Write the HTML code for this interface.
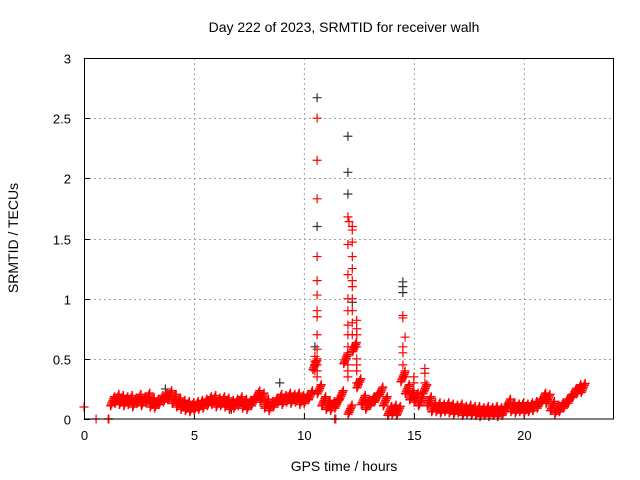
<!DOCTYPE html>
<html><head><meta charset="utf-8"><style>
html,body{margin:0;padding:0;background:#fff}
svg{display:block;font-family:"Liberation Sans",sans-serif}
</style></head><body>
<svg id="chart" width="640" height="480" viewBox="0 0 640 480" xmlns="http://www.w3.org/2000/svg">
<text x="344" y="32" font-size="14" text-anchor="middle">Day 222 of 2023, SRMTID for receiver walh</text>
<text transform="translate(18,238) rotate(-90)" font-size="14" text-anchor="middle">SRMTID / TECUs</text>
<text x="344" y="471" font-size="14" text-anchor="middle">GPS time / hours</text>
<g id="grid"></g>
<g id="ticks"></g>
<g id="marks"></g>
<rect x="84.5" y="58.5" width="529" height="360.5" fill="none" stroke="#000" stroke-width="1"/>
</svg>
<script>
const xTicks=[0,5,10,15,20];
const yTicks=[0,0.5,1,1.5,2,2.5,3];
const yTickLabels=["0","0.5","1","1.5","2","2.5","3"];
const baseTimes=[1.3,1.5,1.7,1.9,2.1,2.3,2.5,2.7,2.9,3.1,3.3,3.5,3.7,3.9,4.1,4.3,4.5,4.7,4.9,5.1,5.3,5.5,5.7,5.9,6.1,6.3,6.5,6.7,6.9,7.1,7.3,7.5,7.7,7.9,8.1,8.3,8.5,8.7,8.9,9.1,9.3,9.5,9.7,9.9,10.1,10.3,10.5,10.7,10.9,11.1,11.3,11.5,11.7,11.9,12.1,12.3,12.5,12.7,12.9,13.1,13.3,13.5,13.7,13.9,14.1,14.3,14.5,14.7,14.9,15.1,15.3,15.5,15.7,15.9,16.1,16.3,16.5,16.7,16.9,17.1,17.3,17.5,17.7,17.9,18.1,18.3,18.5,18.7,18.9,19.1,19.3,19.5,19.7,19.9,20.1,20.3,20.5,20.7,20.9,21.1,21.3,21.5,21.7,21.9,22.1,22.3,22.5,22.7];
const baseValues=[.15,.17,.16,.15,.16,.14,.17,.15,.18,.14,.13,.16,.18,.2,.17,.14,.12,.11,.1,.11,.12,.13,.15,.16,.14,.15,.14,.12,.13,.15,.13,.12,.15,.2,.18,.13,.11,.14,.17,.16,.18,.17,.18,.16,.17,.2,.45,.25,.15,.12,.11,.13,.2,.5,.08,.6,.3,.16,.12,.15,.18,.23,.15,.07,.08,.07,.35,.25,.2,.18,.15,.25,.15,.1,.1,.09,.1,.09,.08,.09,.07,.08,.07,.07,.06,.07,.06,.07,.06,.07,.13,.1,.09,.1,.09,.1,.11,.13,.18,.17,.11,.08,.1,.13,.17,.22,.25,.26];
const spikeTimes=[10.6,10.6,10.6,10.6,10.6,10.6,10.6,10.6,10.6,10.6,10.6,10.6,10.6,10.6,10.5,10.5,10.5,10.5,12.0,12.0,12.0,12.0,12.0,12.0,12.0,12.0,12.0,12.0,12.0,12.0,12.05,12.2,12.2,12.2,12.2,12.2,12.2,12.2,12.2,12.2,12.2,12.2,12.2,12.4,12.4,12.4,12.4,12.4,12.4,12.4,12.4,14.5,14.5,14.5,14.5,14.5,14.6,14.6,14.6,15.0,15.0,15.5,15.5,15.5,0,0.55,1.1,1.13,11.4,11.45];
const spikeValues=[2.5,2.15,1.83,1.35,1.15,1.03,0.9,0.85,0.7,0.58,0.5,0.45,0.4,0.35,0.52,0.48,0.45,0.4,1.68,1.45,1.2,1.0,0.9,0.78,0.7,0.6,0.55,0.45,0.4,0.35,1.64,1.6,1.57,1.47,1.35,1.25,1.15,1.1,1.0,0.9,0.8,0.7,0.6,0.82,0.75,0.7,0.6,0.5,0.45,0.4,0.3,0.86,0.84,0.6,0.55,0.45,0.68,0.4,0.35,0.3,0.35,0.42,0.38,0.3,0.1,0,0,0,0,0];
const blackTimes=[10.6,12.0,12.0,12.0,10.6,14.5,14.5,14.5,12.2,10.5,3.7,6.7,8.9];
const blackValues=[2.67,2.35,2.05,1.87,1.6,1.14,1.1,1.05,0.97,0.6,0.25,0.08,0.3];

const X0=84,X1=614,XMAX=24.1,Y0=419,Y1=58,YMAX=3;
function xs(t){return X0+(X1-X0)*t/XMAX;}
function ys(v){return Y0-(Y0-Y1)*v/YMAX;}
const NS="http://www.w3.org/2000/svg";
const grid=document.getElementById('grid'),ticks=document.getElementById('ticks'),marks=document.getElementById('marks');
function mk(tag,attrs,parent){const e=document.createElementNS(NS,tag);for(const k in attrs)e.setAttribute(k,attrs[k]);parent.appendChild(e);return e;}
xTicks.forEach(t=>{
  const x=xs(t)+0.5;
  if(t>0){const g=mk('line',{x1:x,x2:x,y1:Y1,y2:Y0,stroke:'#a0a0a0','stroke-dasharray':'2,3'},grid);
  
  }
  const l=mk('line',{x1:x,x2:x,y1:Y0,y2:Y0-6,stroke:'#000'},ticks);
  
  
  const tx=mk('text',{x:x,y:Y0+21,'font-size':13,'text-anchor':'middle'},ticks);tx.textContent=String(t);
  
  
});
yTicks.forEach((v,i)=>{
  const y=Math.round(ys(v))+0.5;
  if(v>0&&v<YMAX){const g=mk('line',{x1:X0,x2:X1,y1:y,y2:y,stroke:'#a0a0a0','stroke-dasharray':'2,3'},grid);
  
  }
  const l=mk('line',{x1:X0,x2:X0+6,y1:y,y2:y,stroke:'#000'},ticks);
  
  
  const tx=mk('text',{x:X0-13,y:y+5,'font-size':13,'text-anchor':'end'},ticks);tx.textContent=yTickLabels[i];
  
  
});
function plus(t,v,color,name,w){
  const x=xs(t),y=ys(v);
  const p=mk('path',{d:`M${x-4.5},${y}h9M${x},${y-4.5}v9`,stroke:color,'stroke-width':w||1.2,fill:'none'},marks);
  
  
}
blackTimes.forEach((t,i)=>plus(t,blackValues[i],'#333','black-point'));
const offs=[-0.04,-0.025,-0.01,0.005,0.02,0.035];
baseTimes.forEach((t,i)=>{
  offs.forEach((o,j)=>plus(t+(j-2.5)*0.035,Math.max(0,baseValues[i]+o),'#ff0000','baseline-point',1.5));
});
spikeTimes.forEach((t,i)=>plus(t,spikeValues[i],'#ff0000','spike-point'));
</script>
</body></html>
